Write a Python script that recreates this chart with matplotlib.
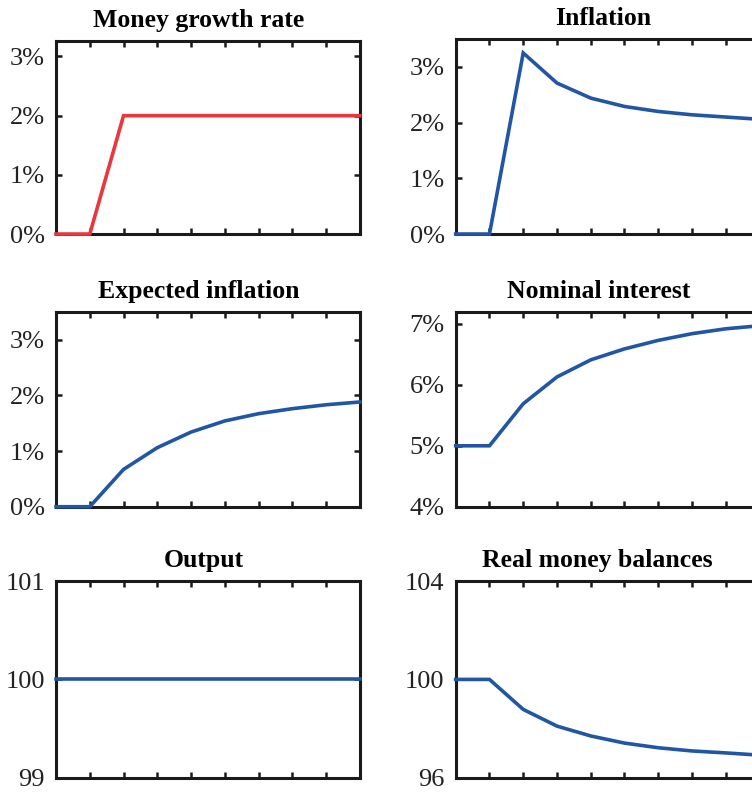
import numpy as np
import matplotlib.pyplot as plt
from matplotlib.ticker import FuncFormatter

plt.rcParams["font.family"] = ["Liberation Serif", "DejaVu Serif"]

periods = list(range(10))

money_growth = [0, 0, 2, 2, 2, 2, 2, 2, 2, 2]
inflation = [0, 0, 3.25, 2.71, 2.44, 2.29, 2.20, 2.14, 2.10, 2.06]
expected_inflation = [0, 0, 0.67, 1.06, 1.34, 1.54, 1.67, 1.76, 1.83, 1.88]
nominal_interest = [5, 5, 5.69, 6.13, 6.41, 6.59, 6.73, 6.84, 6.92, 6.97]
output = [100] * 10
real_money = [100, 100, 98.78, 98.10, 97.70, 97.41, 97.22, 97.09, 97.01, 96.92]

RED = "#e8383d"
BLUE = "#2156a5"

pct = FuncFormatter(lambda v, pos: f"{v:g}%")

# (title, series, colour, ylim, yticks, formatter, title x, [left, bottom, width, height])
panels = [
    ("Money growth rate", money_growth, RED, (0, 3.26), [0, 1, 2, 3], pct, 0.47,
     [0.0745, 0.7045, 0.404, 0.2436]),
    ("Inflation", inflation, BLUE, (0, 3.5), [0, 1, 2, 3], pct, 0.485,
     [0.606, 0.7045, 0.404, 0.2462]),
    ("Expected inflation", expected_inflation, BLUE, (0, 3.5), [0, 1, 2, 3], pct, 0.47,
     [0.0745, 0.3602, 0.404, 0.2462]),
    ("Nominal interest", nominal_interest, BLUE, (4, 7.2), [4, 5, 6, 7], pct, 0.47,
     [0.606, 0.3602, 0.404, 0.2462]),
    ("Output", output, BLUE, (99, 101), [99, 100, 101], None, 0.485,
     [0.0745, 0.018, 0.404, 0.2483]),
    ("Real money balances", real_money, BLUE, (96, 104), [96, 100, 104], None, 0.465,
     [0.606, 0.018, 0.404, 0.2483]),
]

fig = plt.figure(figsize=(7.52, 7.92), dpi=100)

for title, series, color, ylim, yticks, fmt, tx, rect in panels:
    ax = fig.add_axes(rect)
    ax.plot(periods, series, color=color, lw=2.6, clip_on=False, zorder=5,
            solid_joinstyle="miter")
    ax.set_xlim(0, 9)
    ax.set_ylim(*ylim)
    ax.set_xticks(periods)
    ax.set_xticklabels([])
    ax.set_yticks(yticks)
    if fmt is not None:
        ax.yaxis.set_major_formatter(fmt)
    ax.tick_params(direction="in", top=True, right=True, length=4, width=1.8,
                   color="#1a1a1a", labelsize=19, labelcolor="#222222", pad=8)
    for s in ax.spines.values():
        s.set_linewidth(2.2)
        s.set_color("#1a1a1a")
    ax.set_title(title, fontsize=18.5, fontweight="bold", pad=10, x=tx)

fig.savefig("out.png", dpi=100)
